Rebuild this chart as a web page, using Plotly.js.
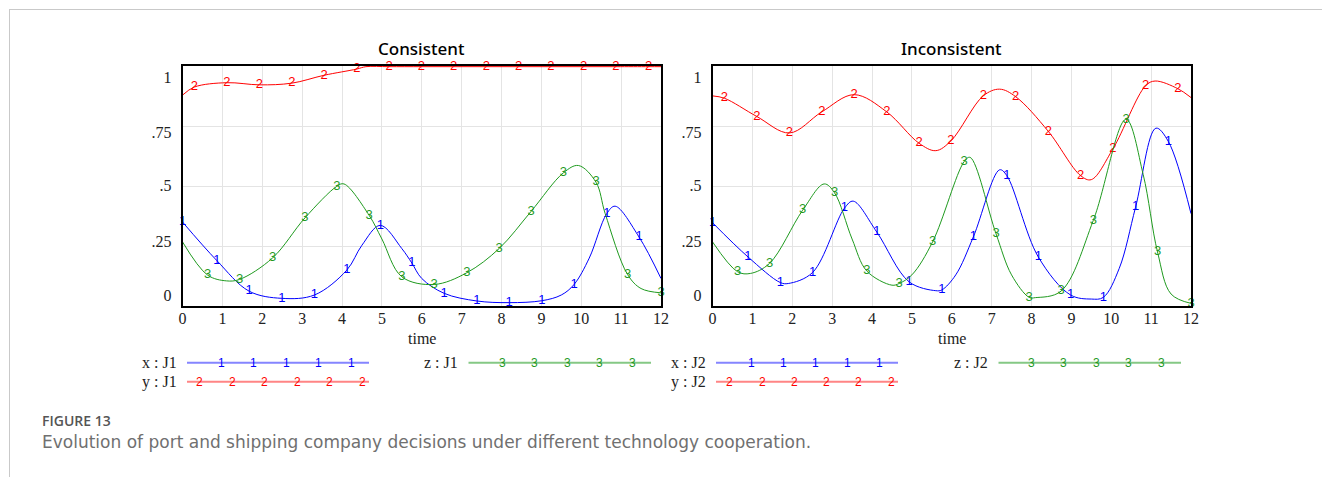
<!DOCTYPE html>
<html><head><meta charset="utf-8">
<script src="https://cdn.plot.ly/plotly-3.0.1.min.js"></script>
<style>html,body{margin:0;padding:0;background:#fff;} #chart{width:1322px;height:477px;}</style>
</head><body><div id="chart"></div>
<script>
// ---------- data ----------
const panelTitles = ['Consistent', 'Inconsistent'];
const xTitle = 'time';
const yTickText = ['0', '.25', '.5', '.75', '1'];
const seriesNames = ['x : J1', 'y : J1', 'z : J1', 'x : J2', 'y : J2', 'z : J2'];
const caption1 = 'FIGURE 13';
const caption2 = 'Evolution of port and shipping company decisions under different technology cooperation.';

// Consistent (J1)
const xJ1_t = [0, 0.86, 1.67, 2.49, 3.31, 4.12, 4.5, 4.96, 5.5, 5.75, 6.0, 6.56, 7.38, 8.19, 9.01, 9.5, 9.82, 10.2, 10.64, 10.85, 11.45, 12];
const xJ1_v = [0.351, 0.19, 0.062, 0.032, 0.046, 0.15, 0.254, 0.337, 0.24, 0.18, 0.115, 0.053, 0.021, 0.014, 0.022, 0.046, 0.09, 0.2, 0.386, 0.417, 0.288, 0.115];
const xJ1_marks = [0, 0.86, 1.67, 2.49, 3.31, 4.12, 4.96, 5.75, 6.56, 7.38, 8.19, 9.01, 9.82, 10.64, 11.45];

const yJ1_t = [0, 0.3, 1.11, 1.93, 2.74, 3.55, 4.37, 4.6, 5.18, 5.99, 6.8, 7.62, 8.43, 9.24, 10.06, 10.87, 11.69, 12];
const yJ1_v = [0.881, 0.915, 0.933, 0.924, 0.931, 0.964, 0.99, 1, 1, 1, 1, 1, 1, 1, 1, 1, 1, 1];
const yJ1_marks = [0.3, 1.11, 1.93, 2.74, 3.55, 4.37, 5.18, 5.99, 6.8, 7.62, 8.43, 9.24, 10.06, 10.87, 11.69];

const zJ1_t = [0, 0.63, 1.1, 1.43, 2.26, 3.07, 3.87, 4.05, 4.68, 5.0, 5.5, 6.31, 7.13, 7.94, 8.74, 9.55, 9.93, 10.37, 10.6, 11.16, 11.5, 12];
const zJ1_v = [0.268, 0.129, 0.105, 0.111, 0.201, 0.368, 0.50, 0.51, 0.379, 0.28, 0.122, 0.09, 0.139, 0.24, 0.395, 0.556, 0.587, 0.517, 0.386, 0.132, 0.073, 0.055];
const zJ1_marks = [0.63, 1.43, 2.26, 3.07, 3.87, 4.68, 5.5, 6.31, 7.13, 7.94, 8.74, 9.55, 10.37, 11.16, 12];

// Inconsistent (J2)
const xJ2_t = [0, 0.89, 1.7, 1.9, 2.51, 3.31, 3.53, 4.12, 4.93, 5.6, 5.75, 6.1, 6.54, 7.2, 7.38, 8.17, 8.98, 9.5, 9.8, 10.2, 10.61, 11.12, 11.43, 12];
const xJ2_v = [0.348, 0.205, 0.098, 0.094, 0.14, 0.409, 0.438, 0.309, 0.101, 0.064, 0.067, 0.13, 0.288, 0.569, 0.545, 0.205, 0.046, 0.029, 0.036, 0.157, 0.413, 0.743, 0.688, 0.386];
const xJ2_marks = [0, 0.89, 1.7, 2.51, 3.31, 4.12, 4.93, 5.75, 6.54, 7.38, 8.17, 8.98, 9.8, 10.61, 11.43];

const yJ2_t = [0, 0.3, 1.11, 1.93, 2.74, 3.55, 4.37, 5.18, 5.6, 5.98, 6.79, 7.2, 7.6, 8.42, 9.23, 9.5, 10.04, 10.86, 11.1, 11.67, 12];
const yJ2_v = [0.878, 0.868, 0.792, 0.723, 0.811, 0.883, 0.811, 0.68, 0.649, 0.69, 0.878, 0.906, 0.875, 0.73, 0.545, 0.528, 0.656, 0.92, 0.94, 0.908, 0.871];
const yJ2_marks = [0.3, 1.11, 1.93, 2.74, 3.55, 4.37, 5.18, 5.98, 6.79, 7.6, 8.42, 9.23, 10.04, 10.86, 11.67];

const zJ2_t = [0, 0.63, 0.95, 1.43, 2.26, 2.8, 3.06, 3.5, 3.87, 4.5, 4.68, 5.0, 5.52, 6.31, 6.46, 7.11, 7.5, 7.94, 8.1, 8.74, 9.55, 10.37, 10.8, 11.16, 11.5, 12];
const zJ2_v = [0.268, 0.143, 0.136, 0.178, 0.40, 0.51, 0.473, 0.28, 0.146, 0.087, 0.094, 0.13, 0.268, 0.603, 0.621, 0.302, 0.13, 0.036, 0.035, 0.062, 0.358, 0.78, 0.55, 0.226, 0.05, 0.011];
const zJ2_marks = [0.63, 1.43, 2.26, 3.06, 3.87, 4.68, 5.52, 6.31, 7.11, 7.94, 8.74, 9.55, 10.37, 11.16, 12];

// ---------- styling ----------
const W = 1322, H = 477;
const px = x => x / W, py = y => 1 - y / H;
const BLUE = '#0000ff', RED = '#ff0000', GREEN = '#1f9a1f';
const LBLUE = '#8585ff', LRED = '#ff8585', LGREEN = '#85c885';
const SERIF = 'Liberation Serif, Times New Roman, serif';
const SANS = 'Liberation Sans, Arial, sans-serif';

function series(t, v, marks, glyph, color, xa, ya) {
  return {
    type: 'scatter', mode: 'lines+text', x: t, y: v, xaxis: xa, yaxis: ya,
    line: { color: color, width: 1, shape: 'spline', smoothing: 1 },
    text: t.map(tt => marks.includes(tt) ? glyph : ''),
    textposition: 'middle center',
    textfont: { family: SANS, size: 13, color: color },
    cliponaxis: false, hoverinfo: 'skip', showlegend: false
  };
}

const traces = [
  series(xJ1_t, xJ1_v, xJ1_marks, '1', BLUE, 'x', 'y'),
  series(yJ1_t, yJ1_v, yJ1_marks, '2', RED, 'x', 'y'),
  series(zJ1_t, zJ1_v, zJ1_marks, '3', GREEN, 'x', 'y'),
  series(xJ2_t, xJ2_v, xJ2_marks, '1', BLUE, 'x2', 'y2'),
  series(yJ2_t, yJ2_v, yJ2_marks, '2', RED, 'x2', 'y2'),
  series(zJ2_t, zJ2_v, zJ2_marks, '3', GREEN, 'x2', 'y2'),
  { type: 'scatter', x: [], y: [], xaxis: 'x', yaxis: 'y3', showlegend: false },
  { type: 'scatter', x: [], y: [], xaxis: 'x2', yaxis: 'y4', showlegend: false }
];

const YR = [0, 1.004];
// Vensim-style label placement (labels sit slightly off the grid lines)
const yLabelPos = [0.043, 0.272, 0.502, 0.725, 0.956];
const xDomL = [px(182.5), px(661)], xDomR = [px(712.5), px(1191)];
const yDom = [py(306), py(65.7)];

function xAx(dom, anchor) {
  return {
    domain: dom, anchor: anchor, range: [0, 12], tickmode: 'linear', tick0: 0, dtick: 1,
    showgrid: true, gridcolor: '#e4e4e4', gridwidth: 1, zeroline: false,
    showline: true, mirror: true, linecolor: '#000', linewidth: 2,
    ticks: '', ticklabelstandoff: -3,
    tickfont: { family: SERIF, size: 16, color: '#222' }, fixedrange: true
  };
}
function yAx(anchor) {
  return {
    domain: yDom, anchor: anchor, range: YR, tickvals: [0, 0.25, 0.5, 0.75, 1],
    showticklabels: false, showgrid: true, gridcolor: '#e4e4e4', gridwidth: 1, zeroline: false,
    showline: true, mirror: true, linecolor: '#000', linewidth: 2, ticks: '', fixedrange: true
  };
}
function yLab(over, anchor) {
  return {
    overlaying: over, anchor: anchor, range: YR, tickvals: yLabelPos, ticktext: yTickText,
    showgrid: false, zeroline: false, showline: false, ticks: '', ticklabelstandoff: 10,
    tickfont: { family: SERIF, size: 16, color: '#222' }, fixedrange: true
  };
}

const annotations = [];
const shapes = [];
function txt(x, y, text, font, xanchor) {
  annotations.push({ xref: 'paper', yref: 'paper', x: px(x), y: py(y), text: text,
    showarrow: false, xanchor: xanchor || 'center', yanchor: 'middle', font: font });
}
// panel titles
txt((182.5 + 661) / 2, 48.5, panelTitles[0], { family: 'Noto Sans, sans-serif', size: 17, color: '#000', weight: 500 });
txt((712.5 + 1191) / 2, 48.5, panelTitles[1], { family: 'Noto Sans, sans-serif', size: 17, color: '#000', weight: 500 });
// x titles
txt((182.5 + 661) / 2, 338, xTitle, { family: SERIF, size: 16, color: '#222' });
txt((712.5 + 1191) / 2, 338, xTitle, { family: SERIF, size: 16, color: '#222' });

// legend
function legendEntry(labelRight, lineX0, lineX1, y, name, lineColor, glyph, glyphColor, glyphXs) {
  txt(labelRight, y, name, { family: SERIF, size: 16, color: '#222' }, 'right');
  shapes.push({ type: 'line', xref: 'paper', yref: 'paper', x0: px(lineX0), x1: px(lineX1), y0: py(y), y1: py(y),
    line: { color: lineColor, width: 2 } });
  glyphXs.forEach(gx => txt(gx, y, glyph, { family: SANS, size: 12, color: glyphColor }));
}
const R1 = 362.7, R2 = 381.7;
legendEntry(179, 187, 369, R1, seriesNames[0], LBLUE, '1', BLUE, [221, 253.5, 286, 318.5, 351]);
legendEntry(179, 187, 369, R2, seriesNames[1], LRED, '2', RED, [199.5, 232, 264.5, 297, 329.5, 362]);
legendEntry(460, 468.5, 651, R1, seriesNames[2], LGREEN, '3', GREEN, [502, 534, 567, 599, 632]);
legendEntry(707.5, 716, 898, R1, seriesNames[3], LBLUE, '1', BLUE, [751, 783, 815, 847.5, 880]);
legendEntry(707.5, 716, 898, R2, seriesNames[4], LRED, '2', RED, [729.5, 762, 794, 826, 858, 891]);
legendEntry(990, 998.5, 1181, R1, seriesNames[5], LGREEN, '3', GREEN, [1031, 1063.5, 1096, 1128, 1161]);

// caption
txt(40, 420, caption1, { family: 'Open Sans, sans-serif', size: 14, color: '#555', weight: 600 }, 'left');
txt(40, 442, caption2, { family: 'DejaVu Sans, sans-serif', size: 17, color: '#707070' }, 'left');

// page frame lines
shapes.push({ type: 'line', xref: 'paper', yref: 'paper', x0: px(9), x1: 1, y0: py(9.5), y1: py(9.5), line: { color: '#c9c9c9', width: 1 } });
shapes.push({ type: 'line', xref: 'paper', yref: 'paper', x0: px(9.5), x1: px(9.5), y0: py(9), y1: 0, line: { color: '#c9c9c9', width: 1 } });

const layout = {
  width: W, height: H, margin: { l: 0, r: 0, t: 0, b: 0 },
  paper_bgcolor: '#fff', plot_bgcolor: '#fff', showlegend: false,
  xaxis: xAx(xDomL, 'y'), yaxis: yAx('x'),
  xaxis2: xAx(xDomR, 'y2'), yaxis2: yAx('x2'),
  yaxis3: yLab('y', 'x'), yaxis4: yLab('y2', 'x2'),
  annotations: annotations, shapes: shapes
};

Plotly.newPlot('chart', traces, layout, { staticPlot: true, displayModeBar: false });
</script></body></html>
